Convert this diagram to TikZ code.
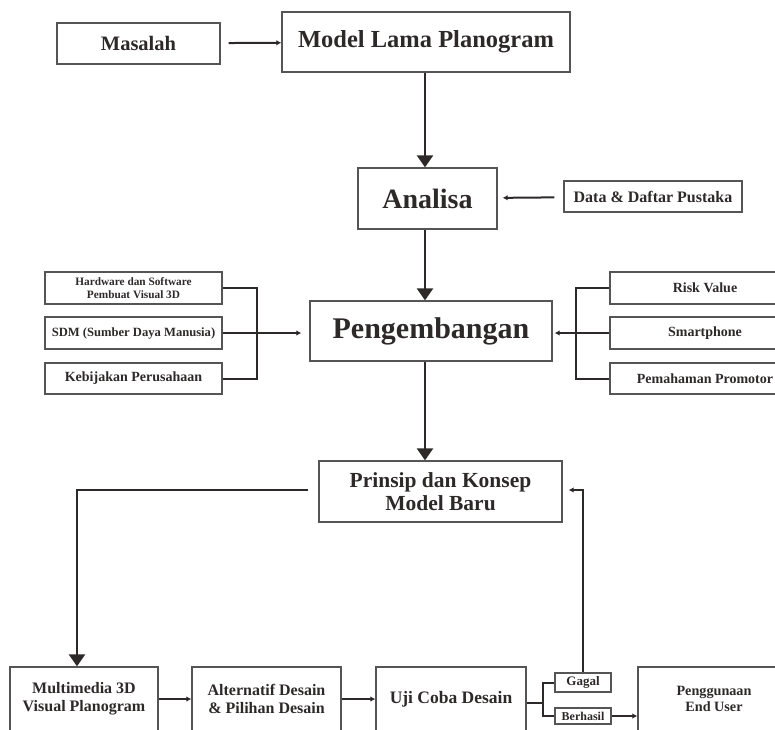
\documentclass[tikz,border=0pt]{standalone}
\usepackage{fontspec}
\setmainfont{Liberation Serif}
\usetikzlibrary{arrows.meta,positioning}
\definecolor{boxgray}{HTML}{555555}
\definecolor{linedark}{HTML}{2E2929}

\begin{document}
\begin{tikzpicture}[x=1pt, y=-1pt]

  \tikzset{BoxStyle/.style = {
  shape = rectangle,
  draw = boxgray,
  line width = 1.3pt,
  inner sep = 0pt,
  align = center,
  text = linedark}}
  \tikzset{LinkStyle/.style = {draw = linedark, line width = 2pt}}
  \tikzset{SmallArrow/.style = {LinkStyle, -{Latex[length=5pt, width=5.5pt]}}}
  \tikzset{BigArrow/.style = {LinkStyle, line width = 2.4pt,
  -{Triangle[length=12pt, width=16pt]}}}

  \useasboundingbox (0,0) rectangle (775,729);
  \clip (0,0) rectangle (775,729);

  % top part
  \node[BoxStyle, minimum width=163, minimum height=41,
  font=\bfseries\fontsize{20.5}{22}\selectfont] (Masalah) at (138.5,43.5) {Masalah};
  \node[BoxStyle, minimum width=288, minimum height=60,
  font=\bfseries\fontsize{24.5}{26}\selectfont] (Model) at (426,42) {Model Lama Planogram};
  \node[BoxStyle, minimum width=139, minimum height=61,
  font=\bfseries\fontsize{28}{30}\selectfont] (Analisa) at (427.5,198.5) {Analisa};
  \node[BoxStyle, minimum width=178, minimum height=31,
  font=\bfseries\fontsize{16}{18}\selectfont] (Data) at (653,196.5) {Data \& Daftar Pustaka};
  \coordinate (Spine) at (425,0);

  % pengembangan
  \node[BoxStyle, minimum width=242, minimum height=60,
  font=\bfseries\fontsize{30}{32}\selectfont] (Pengembangan) at (431,331) {Pengembangan};
  \node[BoxStyle, minimum width=177, minimum height=32,
  font=\bfseries\fontsize{11.3}{12.7}\selectfont] (Hardware) at (133.5,288)
  {Hardware dan Software\\Pembuat Visual 3D};
  \node[BoxStyle, minimum width=177, minimum height=32,
  font=\bfseries\fontsize{12.6}{14}\selectfont] (SDM) at (133.5,333)
  {SDM (Sumber Daya Manusia)};
  \node[BoxStyle, minimum width=177, minimum height=31,
  font=\bfseries\fontsize{14}{16}\selectfont] (Kebijakan) at (133.5,378.5)
  {Kebijakan Perusahaan};
  \node[BoxStyle, minimum width=190, minimum height=32,
  font=\bfseries\fontsize{14}{16}\selectfont] (Risk) at (705,288) {Risk Value};
  \node[BoxStyle, minimum width=190, minimum height=32,
  font=\bfseries\fontsize{14}{16}\selectfont] (Smartphone) at (705,333) {Smartphone};
  \node[BoxStyle, minimum width=190, minimum height=31,
  font=\bfseries\fontsize{14}{16}\selectfont] (Promotor) at (705,378.5)
  {Pemahaman Promotor};
  \coordinate (LeftBar) at (257,0);
  \coordinate (RightBar) at (576,0);

  % model baru
  \node[BoxStyle, minimum width=243, minimum height=61,
  font=\bfseries\fontsize{21.5}{23}\selectfont] (Prinsip) at (440.5,491.5)
  {Prinsip dan Konsep\\Model Baru};
  \coordinate (Turn) at (77,490);

  % bottom row
  \node[BoxStyle, minimum width=148, minimum height=64,
  font=\bfseries\fontsize{16}{18}\selectfont] (Multimedia) at (84,699)
  {Multimedia 3D\\Visual Planogram};
  \node[BoxStyle, minimum width=149, minimum height=64,
  font=\bfseries\fontsize{16}{18}\selectfont] (Alternatif) at (266.5,699)
  {Alternatif Desain\\\& Pilihan Desain};
  \node[BoxStyle, minimum width=150, minimum height=64,
  font=\bfseries\fontsize{17.5}{19}\selectfont] (UjiCoba) at (451,699)
  {Uji Coba Desain};
  \node[BoxStyle, minimum width=56, minimum height=19,
  font=\bfseries\fontsize{13}{14}\selectfont] (Gagal) at (583,682.5) {Gagal};
  \node[BoxStyle, minimum width=56, minimum height=16,
  font=\bfseries\fontsize{12}{13}\selectfont] (Berhasil) at (583,716) {Berhasil};
  \node[BoxStyle, minimum width=152, minimum height=64,
  font=\bfseries\fontsize{14.2}{16}\selectfont] (EndUser) at (714,699)
  {Penggunaan\\End User};
  \coordinate (Split) at (543,703);

  % connectors
  \draw[SmallArrow, shorten <=8pt] (Masalah) -- (Model);
  \draw[BigArrow] (Model.south -| Spine) -- (Analisa.north -| Spine);
  \draw[SmallArrow, shorten <=9pt, shorten >=5pt] (Data) -- (Analisa);
  \draw[BigArrow] (Analisa.south -| Spine) -- (Pengembangan.north -| Spine);

  \draw[LinkStyle] (Hardware.east) -| (LeftBar |- Kebijakan.east) -- (Kebijakan.east);
  \draw[SmallArrow, shorten >=8pt] (SDM.east) -- (Pengembangan.west |- SDM.east);
  \draw[LinkStyle] (Risk.west) -| (RightBar |- Promotor.west) -- (Promotor.west);
  \draw[SmallArrow, shorten >=2pt] (Smartphone.west) -- (Pengembangan.east |- Smartphone.west);

  \draw[BigArrow] (Pengembangan.south -| Spine) -- (Prinsip.north -| Spine);
  \draw[BigArrow, shorten <=10pt] (Prinsip.west |- Turn) -- (Turn) -- (Multimedia.north -| Turn);

  \draw[SmallArrow] (Multimedia) -- (Alternatif);
  \draw[SmallArrow] (Alternatif) -- (UjiCoba);
  \draw[LinkStyle] (UjiCoba.east |- Split) -- (Split);
  \draw[LinkStyle] (Gagal.west) -| (Split) |- (Berhasil.west);
  \draw[SmallArrow] (Berhasil.east) -- (EndUser.west |- Berhasil.east);
  \draw[SmallArrow, shorten >=6pt] (Gagal.north) -- (Gagal.north |- Turn) -- (Prinsip.east |- Turn);

\end{tikzpicture}
\end{document}
